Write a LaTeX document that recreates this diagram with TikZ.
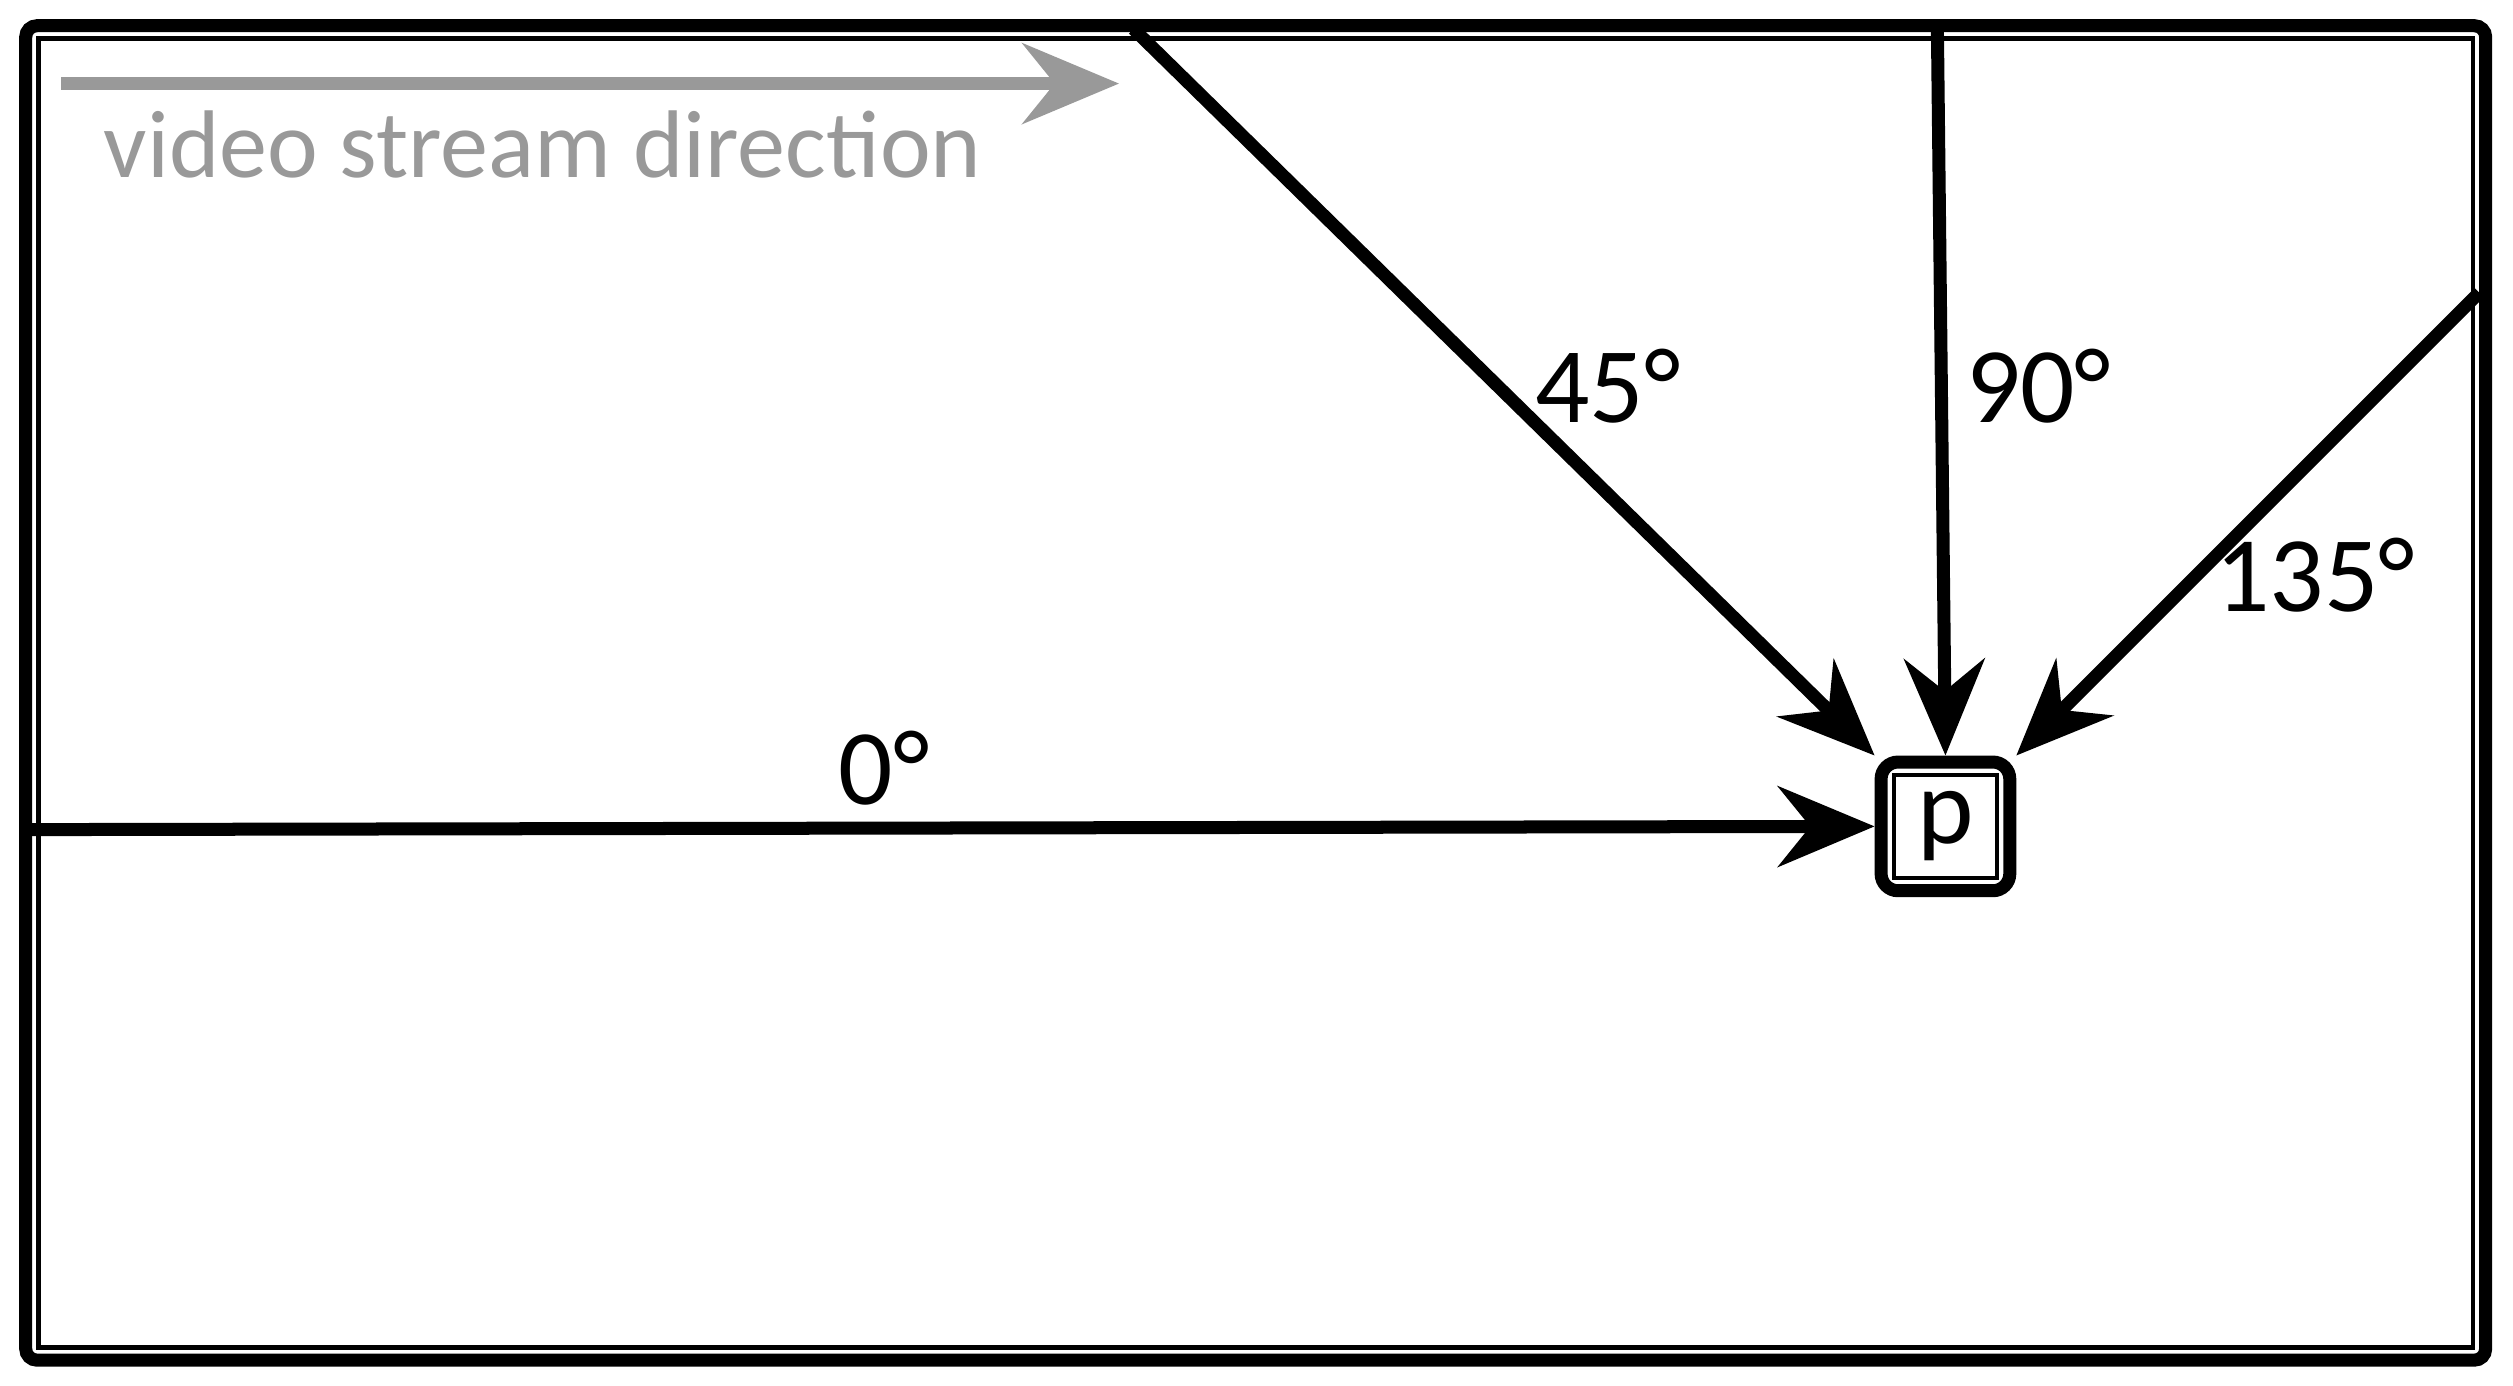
\documentclass[tikz,border=0pt]{standalone}
\usepackage{fontspec}
\setmainfont{Carlito}
\usetikzlibrary{arrows.meta}
\begin{document}
\begin{tikzpicture}[x=0.01cm,y=-0.01cm,
  conn/.style={line width=2.3pt,-{Stealth[length=0.6cm,width=0.5cm,inset=0.2cm]}},
  lbl/.style={font=\fontsize{19}{22}\selectfont}]
\useasboundingbox (0,0) rectangle (1563,862);
\draw[line width=2.3pt,rounded corners=2pt] (16,16) rectangle (1546,846);
\draw[line width=0.8pt] (24,24) rectangle (1538,838);
\node[draw,line width=2.3pt,rounded corners=3pt,minimum size=0.8cm,inner sep=0pt] (p) at (1210,514) {};
\node[draw,line width=0.8pt,minimum size=0.64cm,inner sep=0pt,font=\fontsize{19}{22}\selectfont] (pi) at (1210,514) {p};
\coordinate (s0) at (18,516);
\coordinate (s45) at (705,18);
\coordinate (s90) at (1205,18);
\coordinate (s135) at (1542,182);
\draw[conn] (s0) -- (p.west);
\draw[conn] (s45) -- (p.north west);
\draw[conn] (s90) -- (p.north);
\draw[conn] (s135) -- (p.north east);
\coordinate (g0) at (38,52);
\coordinate (g1) at (696,52);
\draw[conn,gray!80] (g0) -- (g1);
\node[lbl,text=gray!80,anchor=west] (vt) at (52,90) {\fontsize{17}{20}\selectfont video stream direction};
\node[lbl] (l45) at (1000,240) {45°};
\node[lbl] (l90) at (1268,240) {90°};
\node[lbl] (l135) at (1440,358) {135°};
\node[lbl] (l0) at (550,478) {0°};
\end{tikzpicture}
\end{document}
